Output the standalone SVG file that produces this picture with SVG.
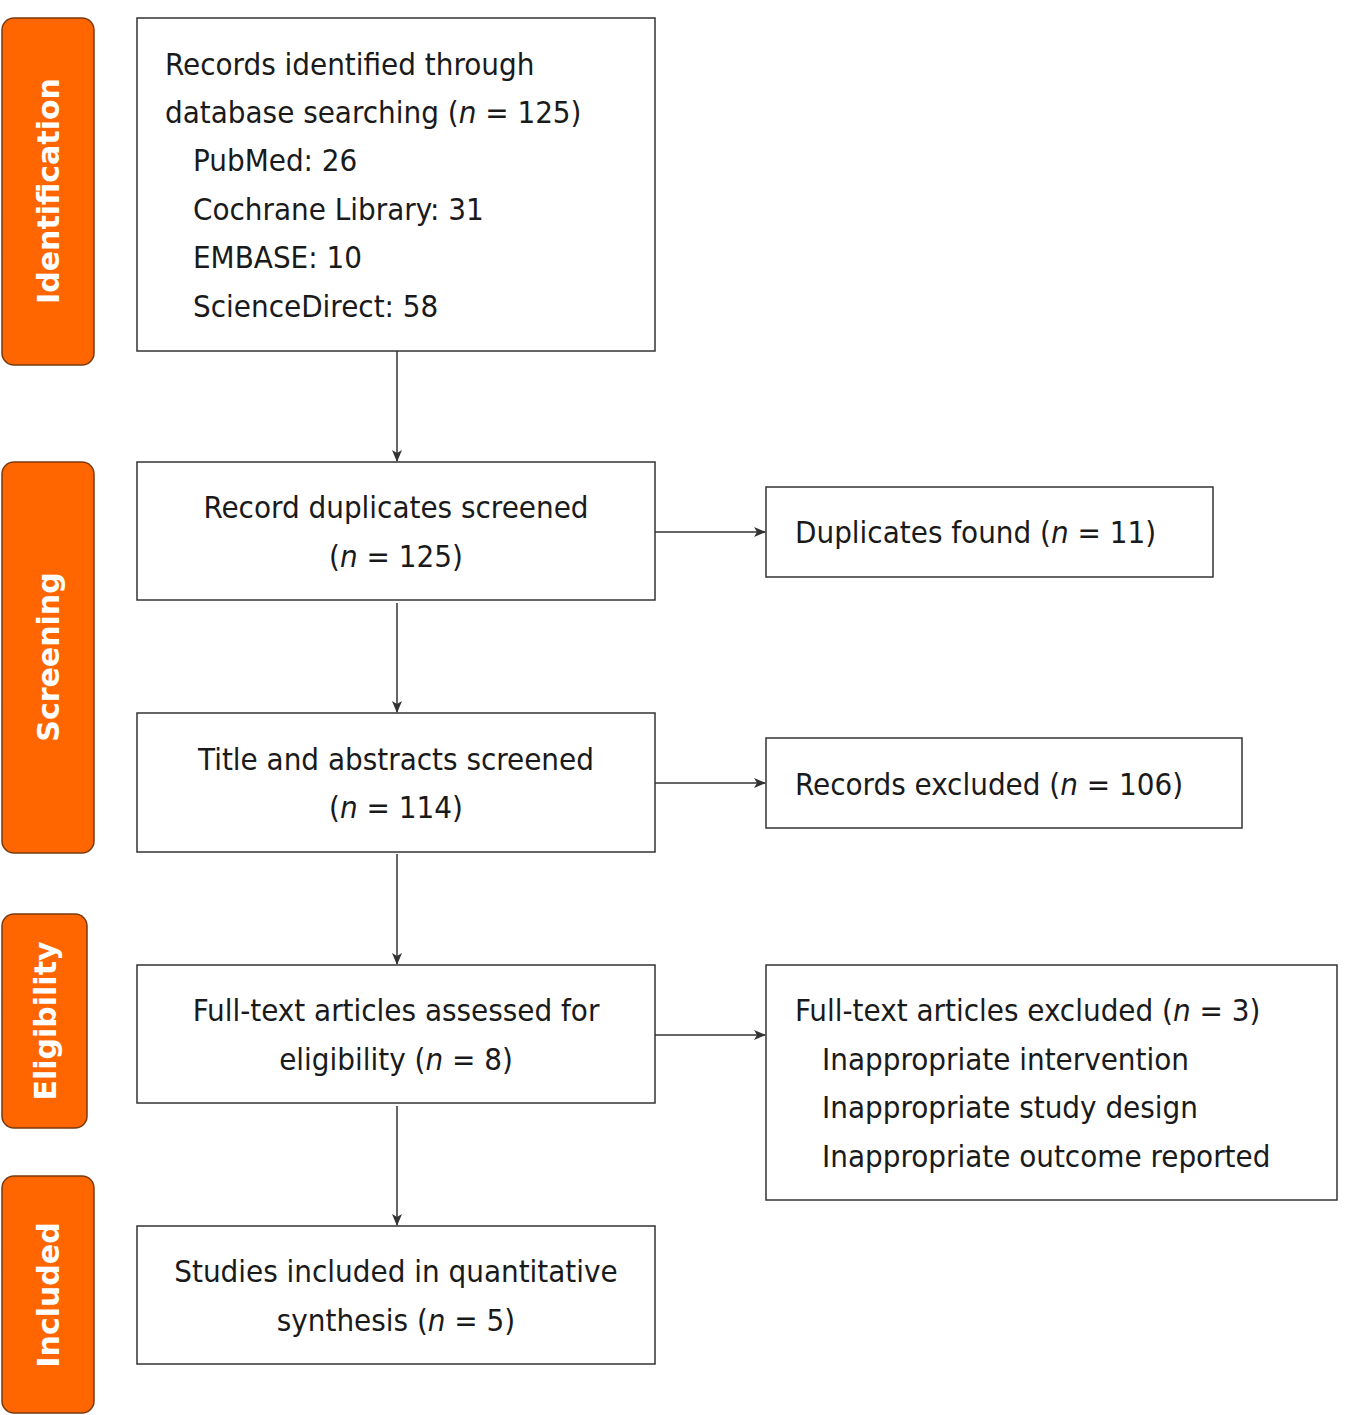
<svg xmlns="http://www.w3.org/2000/svg" width="1352" height="1415" viewBox="0 0 1352 1415">
<style>
.side{fill:#FF6600;stroke:#7a3a10;stroke-width:1.5}
.st{fill:#fff;font-family:"DejaVu Sans",sans-serif;font-weight:bold;font-size:30px}
.box{fill:#fff;stroke:#333;stroke-width:1.5}
.t{font-family:"DejaVu Sans Condensed","DejaVu Sans",sans-serif;font-size:31px;fill:#1a1a1a}
.c{stroke:#333;stroke-width:1.5;fill:none;marker-end:url(#a)}
</style>
<defs><marker id="a" markerWidth="12" markerHeight="10" refX="11" refY="5" orient="auto" markerUnits="userSpaceOnUse"><path d="M0,0 L12,5 L0,10 L3,5 Z" fill="#333"/></marker></defs>
<rect width="1352" height="1415" fill="#fff"/>
<g id="stages">
<rect class="side" x="2" y="18" width="92" height="347" rx="12"/>
<text class="st" transform="translate(59,191) rotate(-90)" text-anchor="middle">Identification</text>
<rect class="side" x="2" y="462" width="92" height="391" rx="12"/>
<text class="st" transform="translate(59,657) rotate(-90)" text-anchor="middle">Screening</text>
<rect class="side" x="2" y="914" width="85" height="214" rx="12"/>
<text class="st" transform="translate(56,1021) rotate(-90)" text-anchor="middle">Eligibility</text>
<rect class="side" x="2" y="1176" width="92" height="237" rx="12"/>
<text class="st" transform="translate(59,1295) rotate(-90)" text-anchor="middle">Included</text>
</g>
<g id="n1"><rect class="box" x="137" y="18" width="518" height="333"/>
<text class="t" x="165" y="75">Records identified through</text>
<text class="t" x="165" y="123">database searching (<tspan font-style="italic">n</tspan> = 125)</text>
<text class="t" x="193" y="171">PubMed: 26</text>
<text class="t" x="193" y="220">Cochrane Library: 31</text>
<text class="t" x="193" y="268">EMBASE: 10</text>
<text class="t" x="193" y="317">ScienceDirect: 58</text></g>
<g id="n2"><rect class="box" x="137" y="462" width="518" height="138"/>
<text class="t" x="396" y="518" text-anchor="middle">Record duplicates screened</text>
<text class="t" x="396" y="567" text-anchor="middle">(<tspan font-style="italic">n</tspan> = 125)</text></g>
<g id="n3"><rect class="box" x="137" y="713" width="518" height="139"/>
<text class="t" x="396" y="770" text-anchor="middle">Title and abstracts screened</text>
<text class="t" x="396" y="818" text-anchor="middle">(<tspan font-style="italic">n</tspan> = 114)</text></g>
<g id="n4"><rect class="box" x="137" y="965" width="518" height="138"/>
<text class="t" x="396" y="1021" text-anchor="middle">Full-text articles assessed for</text>
<text class="t" x="396" y="1070" text-anchor="middle">eligibility (<tspan font-style="italic">n</tspan> = 8)</text></g>
<g id="n5"><rect class="box" x="137" y="1226" width="518" height="138"/>
<text class="t" x="396" y="1282" text-anchor="middle">Studies included in quantitative</text>
<text class="t" x="396" y="1331" text-anchor="middle">synthesis (<tspan font-style="italic">n</tspan> = 5)</text></g>
<g id="r1"><rect class="box" x="766" y="487" width="447" height="90"/>
<text class="t" x="795" y="543">Duplicates found (<tspan font-style="italic">n</tspan> = 11)</text></g>
<g id="r2"><rect class="box" x="766" y="738" width="476" height="90"/>
<text class="t" x="795" y="795">Records excluded (<tspan font-style="italic">n</tspan> = 106)</text></g>
<g id="r3"><rect class="box" x="766" y="965" width="571" height="235"/>
<text class="t" x="795" y="1021">Full-text articles excluded (<tspan font-style="italic">n</tspan> = 3)</text>
<text class="t" x="822" y="1070">Inappropriate intervention</text>
<text class="t" x="822" y="1118">Inappropriate study design</text>
<text class="t" x="822" y="1167">Inappropriate outcome reported</text></g>
<g id="connectors">
<line class="c" x1="397" y1="351" x2="397" y2="461"/>
<line class="c" x1="397" y1="603" x2="397" y2="712"/>
<line class="c" x1="397" y1="854" x2="397" y2="964"/>
<line class="c" x1="397" y1="1106" x2="397" y2="1225"/>
<line class="c" x1="655" y1="532" x2="765" y2="532"/>
<line class="c" x1="655" y1="783" x2="765" y2="783"/>
<line class="c" x1="655" y1="1035" x2="765" y2="1035"/>
</g>
</svg>
